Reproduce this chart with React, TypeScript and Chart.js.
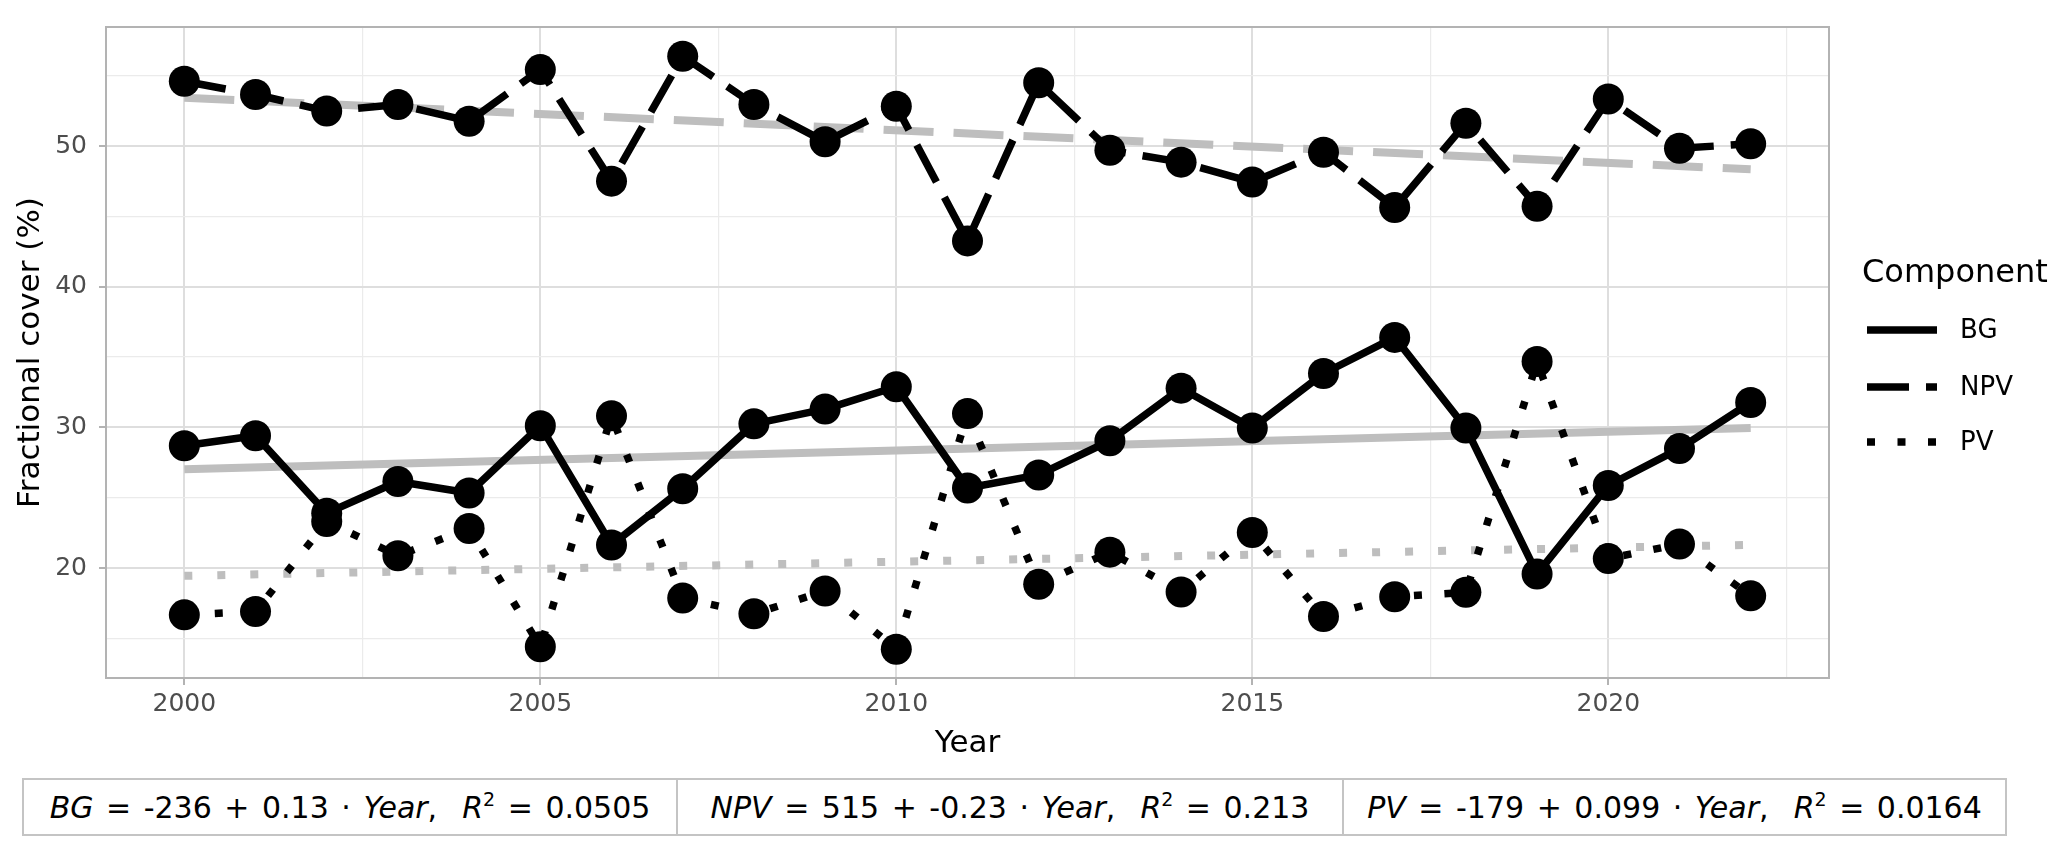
import React, { useEffect, useRef } from "react";
import { Chart, registerables } from "chart.js";

Chart.register(...registerables);

// ---------- data ----------
const years = [2000, 2001, 2002, 2003, 2004, 2005, 2006, 2007, 2008, 2009, 2010, 2011, 2012, 2013, 2014, 2015, 2016, 2017, 2018, 2019, 2020, 2021, 2022];
const bgValues = [28.7, 29.41, 23.9, 26.15, 25.34, 30.12, 21.64, 25.64, 30.25, 31.3, 32.89, 25.69, 26.62, 29.05, 32.79, 29.95, 33.83, 36.4, 29.96, 19.58, 25.87, 28.49, 31.77];
const npvValues = [54.61, 53.67, 52.49, 52.96, 51.77, 55.44, 47.51, 56.39, 52.96, 50.31, 52.84, 43.26, 54.5, 49.71, 48.86, 47.44, 49.57, 45.63, 51.63, 45.72, 53.35, 49.85, 50.16];
const pvValues = [16.67, 16.9, 23.3, 20.87, 22.81, 14.4, 30.82, 17.86, 16.74, 18.37, 14.22, 30.98, 18.84, 21.13, 18.3, 22.53, 16.55, 17.96, 18.27, 34.68, 20.67, 21.7, 18.02];

const componentNames = ["BG", "NPV", "PV"];
const intercepts = ["-236", "515", "-179"];
const slopes = ["0.13", "-0.23", "0.099"];
const rSquared = ["0.0505", "0.213", "0.0164"];

const xTickValues = [2000, 2002.5, 2005, 2007.5, 2010, 2012.5, 2015, 2017.5, 2020, 2022.5];
const xMajorTicks = [2000, 2005, 2010, 2015, 2020];
const yTickValues = [15, 20, 25, 30, 35, 40, 45, 50, 55];
const yMajorTicks = [20, 30, 40, 50];

const xTitle = "Year";
const yTitle = "Fractional cover (%)";
const legendTitle = "Component";

// ---------- helpers ----------
function linFit(xs: number[], ys: number[]) {
  const n = xs.length;
  const mx = xs.reduce((a, b) => a + b, 0) / n;
  const my = ys.reduce((a, b) => a + b, 0) / n;
  let sxy = 0, sxx = 0;
  for (let i = 0; i < n; i++) {
    sxy += (xs[i] - mx) * (ys[i] - my);
    sxx += (xs[i] - mx) * (xs[i] - mx);
  }
  const b = sxy / sxx;
  const a = my - b * mx;
  return (x: number) => a + b * x;
}

const FONT = '"DejaVu Sans", "Liberation Sans", Arial, sans-serif';
const W = 2067;
const H = 855;
const GREY = "#BEBEBE";

const dashes: Record<string, number[]> = {
  BG: [],
  NPV: [42, 17],
  PV: [8, 22.5],
};
const greyDashes: Record<string, number[]> = {
  BG: [],
  NPV: [50, 20],
  PV: [8, 25],
};

const seriesValues: Record<string, number[]> = { BG: bgValues, NPV: npvValues, PV: pvValues };

const decorPlugin = {
  id: "decor",
  beforeDraw(chart: any) {
    const ctx = chart.ctx;
    ctx.save();
    ctx.fillStyle = "#fff";
    ctx.fillRect(0, 0, chart.width, chart.height);
    ctx.restore();
  },
  afterDatasetsDraw(chart: any) {
    const { ctx, chartArea } = chart;
    ctx.save();
    ctx.strokeStyle = "#B3B3B3";
    ctx.lineWidth = 2;
    ctx.setLineDash([]);
    ctx.strokeRect(chartArea.left, chartArea.top, chartArea.right - chartArea.left, chartArea.bottom - chartArea.top);
    ctx.restore();
  },
  afterDraw(chart: any) {
    const { ctx, chartArea } = chart;
    ctx.save();
    // axis titles
    ctx.fillStyle = "#000";
    ctx.font = `31px ${FONT}`;
    ctx.textAlign = "center";
    ctx.textBaseline = "middle";
    ctx.fillText(xTitle, (chartArea.left + chartArea.right) / 2, 744);
    ctx.save();
    ctx.translate(31, (chartArea.top + chartArea.bottom) / 2);
    ctx.rotate(-Math.PI / 2);
    ctx.fillText(yTitle, 0, 0);
    ctx.restore();

    // legend
    ctx.textAlign = "left";
    ctx.textBaseline = "alphabetic";
    ctx.font = `32px ${FONT}`;
    ctx.fillText(legendTitle, 1862, 282);
    const keyY = [330, 387, 442];
    componentNames.forEach((name, i) => {
      ctx.beginPath();
      ctx.strokeStyle = "#000";
      ctx.lineWidth = 7.5;
      ctx.lineCap = "butt";
      ctx.setLineDash(dashes[name]);
      ctx.moveTo(1867, keyY[i]);
      ctx.lineTo(1937, keyY[i]);
      ctx.stroke();
      ctx.setLineDash([]);
      ctx.font = `26px ${FONT}`;
      ctx.textBaseline = "middle";
      ctx.fillText(name, 1960, keyY[i] + 1);
    });
    ctx.restore();
  },
};

export default function App() {
  const canvasRef = useRef<HTMLCanvasElement | null>(null);

  useEffect(() => {
    document.body.style.margin = "0";
    const canvas = canvasRef.current;
    if (!canvas) return;

    const datasets: any[] = [];
    componentNames.forEach((name) => {
      const vals = seriesValues[name];
      const f = linFit(years, vals);
      const x0 = years[0];
      const x1 = years[years.length - 1];
      datasets.push({
        label: name + " trend",
        data: [
          { x: x0, y: f(x0) },
          { x: x1, y: f(x1) },
        ],
        showLine: true,
        borderColor: GREY,
        borderWidth: 8,
        borderDash: greyDashes[name],
        borderCapStyle: "butt",
        pointRadius: 0,
        pointHoverRadius: 0,
        order: 10,
      });
    });
    componentNames.forEach((name) => {
      const vals = seriesValues[name];
      datasets.push({
        label: name,
        data: years.map((y, i) => ({ x: y, y: vals[i] })),
        showLine: true,
        borderColor: "#000",
        borderWidth: 7.5,
        borderDash: dashes[name],
        borderCapStyle: "butt",
        borderJoinStyle: "round",
        pointRadius: 15.5,
        pointHoverRadius: 15.5,
        pointBackgroundColor: "#000",
        pointBorderWidth: 0,
        pointBorderColor: "#000",
        order: 0,
      });
    });

    const chart = new Chart(canvas, {
      type: "scatter",
      data: { datasets },
      options: {
        animation: false,
        responsive: false,
        devicePixelRatio: 1,
        events: [],
        layout: { padding: { left: 0, right: 238, top: 18, bottom: 0 } },
        plugins: { legend: { display: false }, tooltip: { enabled: false } },
        scales: {
          x: {
            type: "linear",
            min: 1998.9,
            max: 2023.1,
            afterFit: (s: any) => {
              s.height = H - 678;
            },
            afterBuildTicks: (s: any) => {
              s.ticks = xTickValues.map((v) => ({ value: v }));
            },
            border: { display: false },
            grid: {
              color: (c: any) => (xMajorTicks.includes(c.tick?.value) ? "#DEDEDE" : "#EBEBEB"),
              lineWidth: (c: any) => (xMajorTicks.includes(c.tick?.value) ? 2 : 1.2),
              tickColor: (c: any) => (xMajorTicks.includes(c.tick?.value) ? "#B3B3B3" : "rgba(0,0,0,0)"),
              tickLength: 7,
              drawTicks: true,
            },
            ticks: {
              autoSkip: false,
              maxRotation: 0,
              padding: 4,
              color: "#4D4D4D",
              font: { family: FONT, size: 25 },
              callback: (v: any) => (xMajorTicks.includes(Number(v)) ? String(v) : ""),
            },
          },
          y: {
            type: "linear",
            min: 12.18,
            max: 58.47,
            afterFit: (s: any) => {
              s.width = 106;
            },
            afterBuildTicks: (s: any) => {
              s.ticks = yTickValues.map((v) => ({ value: v }));
            },
            border: { display: false },
            grid: {
              color: (c: any) => (yMajorTicks.includes(c.tick?.value) ? "#DEDEDE" : "#EBEBEB"),
              lineWidth: (c: any) => (yMajorTicks.includes(c.tick?.value) ? 2 : 1.2),
              tickColor: (c: any) => (yMajorTicks.includes(c.tick?.value) ? "#B3B3B3" : "rgba(0,0,0,0)"),
              tickLength: 7,
              drawTicks: true,
            },
            ticks: {
              autoSkip: false,
              padding: 12,
              color: "#4D4D4D",
              font: { family: FONT, size: 25 },
              callback: (v: any) => (yMajorTicks.includes(Number(v)) ? String(v) : ""),
            },
          },
        },
      },
      plugins: [decorPlugin],
    });
    return () => chart.destroy();
  }, []);

  const cellWidths = [654, 666, 665];

  return (
    <div style={{ position: "absolute", left: 0, top: 0, width: W, height: H, background: "#fff" }}>
      <canvas ref={canvasRef} width={W} height={H} style={{ position: "absolute", left: 0, top: 0, width: W, height: H }} />
      <div
        style={{
          position: "absolute",
          left: 22,
          top: 778,
          height: 58,
          display: "flex",
          border: "2px solid #C4C4C4",
          boxSizing: "border-box",
          fontFamily: FONT,
          fontSize: 30,
          wordSpacing: 3,
          color: "#000",
          background: "#fff",
        }}
      >
        {componentNames.map((name, i) => (
          <div
            key={name}
            style={{
              width: cellWidths[i] - (i === 0 ? 2 : 0) - (i === 2 ? 2 : 0),
              borderLeft: i > 0 ? "2px solid #C4C4C4" : "none",
              boxSizing: "border-box",
              display: "flex",
              alignItems: "center",
              justifyContent: "center",
              whiteSpace: "pre",
            }}
          >
            <span>
              <i>{name}</i>
              {` = ${intercepts[i]} + ${slopes[i]} \u00B7 `}
              <i>Year</i>
              {",  "}
              <i>R</i>
              <span style={{ fontSize: 19, position: "relative", top: -12 }}>2</span>
              {` = ${rSquared[i]}`}
            </span>
          </div>
        ))}
      </div>
    </div>
  );
}
